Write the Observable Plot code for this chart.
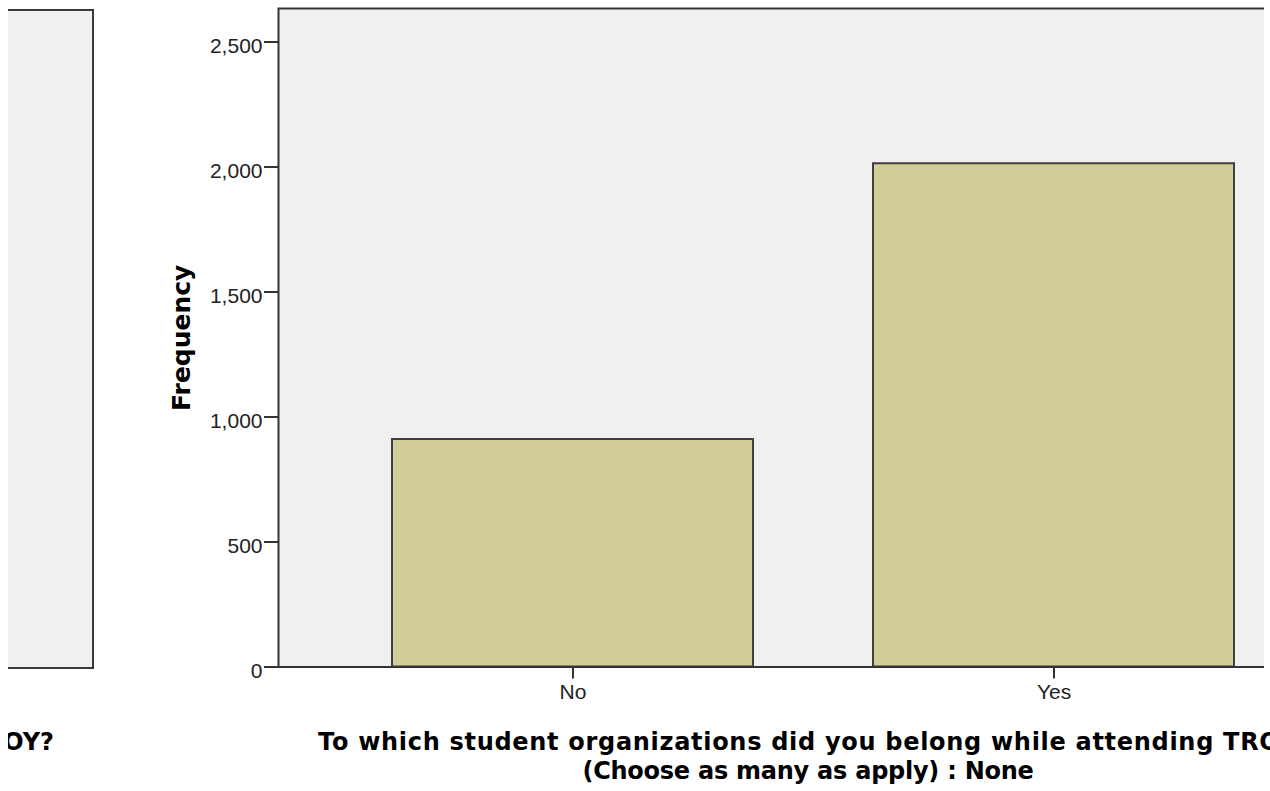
<!DOCTYPE html>
<html>
<head>
<meta charset="utf-8">
<script src="https://cdn.jsdelivr.net/npm/d3@7"></script>
<script src="https://cdn.jsdelivr.net/npm/@observablehq/plot@0.6"></script>
<style>
  html, body { margin: 0; padding: 0; background: #ffffff; }
  body { width: 1270px; height: 791px; position: relative; overflow: hidden; }
  #plotwrap { position: absolute; left: 0; top: 0; width: 1264px; height: 791px; overflow: hidden; }
  #plotwrap svg { max-width: none !important; width: 1350px !important; height: 791px !important; display: block; }
  #leftpanel { position: absolute; left: 8px; top: 9px; width: 84px; height: 656px;
    background: #f0f0f0; border-top: 2px solid #3a3a3a; border-right: 2px solid #3a3a3a; border-bottom: 2px solid #3a3a3a; }
  .ttl { position: absolute; font-family: "DejaVu Sans", Verdana, sans-serif; font-weight: bold;
    font-size: 24px; line-height: 29px; color: #000; white-space: nowrap; }
  #leftttl { left: 8px; top: 728px; width: 46px; overflow: hidden; display: flex; justify-content: flex-end; }
  #title1 { left: 318px; top: 728px; letter-spacing: 0.7px; }
  #title2 { left: 308px; width: 1000px; top: 757px; text-align: center; letter-spacing: -0.25px; }
</style>
</head>
<body>
<div id="leftpanel"></div>
<div id="plotwrap"></div>
<div class="ttl" id="leftttl"><span>TROY?</span></div>
<div class="ttl" id="title1">To which student organizations did you belong while attending TROY?</div>
<div class="ttl" id="title2">(Choose as many as apply) : None</div>
<script>
const categories = ["No", "Yes"];
const frequencies = [910, 2013];
const yTicks = [0, 500, 1000, 1500, 2000, 2500];
const yLabel = "Frequency";

const data = categories.map((c, i) => ({category: c, frequency: frequencies[i]}));

const chart = Plot.plot({
  width: 1350,
  height: 791,
  marginLeft: 278,
  marginRight: 8,
  marginTop: 8,
  marginBottom: 124.5,
  style: {fontFamily: "'Liberation Sans', Arial, sans-serif", fontSize: "21px", background: "transparent", color: "#222", maxWidth: "none"},
  x: {domain: categories, range: [391.6, 1235.1], paddingInner: 0.25, paddingOuter: 0, align: 0.5, label: null},
  y: {domain: [0, 2634], label: null},
  marks: [
    Plot.frame({fill: "#f0f0f0", stroke: null}),
    Plot.barY(data, {x: "category", y: "frequency", fill: "#d3cd97", stroke: "#3f3f3f", strokeWidth: 2}),
    Plot.frame({stroke: "#333", strokeWidth: 2, fill: null}),
    Plot.axisY({ticks: yTicks, tickFormat: () => "", tickSize: 14, stroke: "#333", strokeWidth: 2, label: null}),
    Plot.axisY({ticks: yTicks, tickFormat: d3.format(","), tickSize: 0, tickPadding: 16, dy: 4, label: null, fill: "#222"}),
    Plot.axisX({tickSize: 12, tickPadding: 5, stroke: "#333", strokeWidth: 2, label: null, fill: "#222"}),
    Plot.text([yLabel], {frameAnchor: "left", dx: -89, rotate: -90, textAnchor: "middle", lineAnchor: "bottom", text: d => d,
      fontFamily: "'DejaVu Sans', Verdana, sans-serif", fontWeight: "bold", fontSize: 25, fill: "#000"})
  ]
});
document.getElementById("plotwrap").appendChild(chart);
</script>
</body>
</html>
